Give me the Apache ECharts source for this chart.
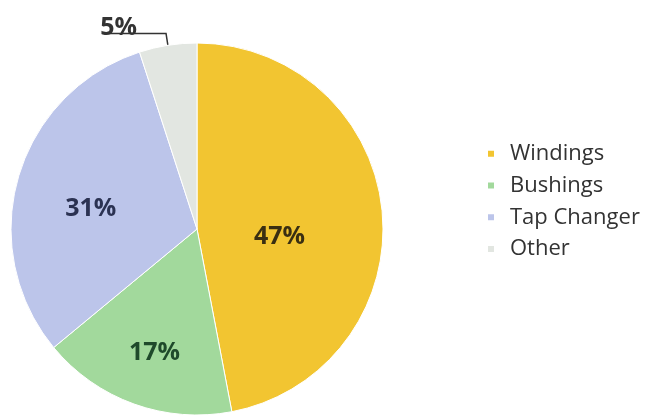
<!DOCTYPE html>
<html><head><meta charset="utf-8">
<script src="https://cdn.jsdelivr.net/npm/echarts@6/dist/echarts.min.js"></script>
<style>html,body{margin:0;padding:0;background:#fff}#c{width:650px;height:418px}</style>
</head><body><div id="c"></div>
<script>
const categories = ["Windings", "Bushings", "Tap Changer", "Other"];
const values = [47, 17, 31, 5];
const sliceColors = ["#F2C531", "#A2D99C", "#BCC5EA", "#E2E6E1"];
const labelColors = ["#3a2f12", "#1f4a2b", "#2b3252", "#333333"];
const labelOffsets = [[-13, 17], [-10, 34], [-14, 7], [38, -6]];

const chart = echarts.init(document.getElementById('c'), null, {renderer: 'canvas'});
const data = categories.map((name, i) => {
  const item = {
    name: name,
    value: values[i],
    itemStyle: {color: sliceColors[i]},
    label: {color: labelColors[i], offset: labelOffsets[i]}
  };
  if (i === 3) {
    item.label.position = 'outside';
    item.labelLine = {show: true, length: 12, length2: 62, lineStyle: {color: '#333', width: 1.5}};
  }
  return item;
});
chart.setOption({
  animation: false,
  legend: {
    orient: 'vertical',
    left: 481,
    top: 134,
    itemWidth: 8,
    itemHeight: 8,
    itemGap: 2,
    icon: 'rect',
    textStyle: {fontFamily: 'Open Sans', fontSize: 22, color: '#333', padding: [0, 0, 0, 10], lineHeight: 29.7},
    data: categories
  },
  series: [{
    type: 'pie',
    center: [197, 229],
    radius: 186,
    startAngle: 90,
    clockwise: true,
    itemStyle: {borderColor: '#fff', borderWidth: 1},
    label: {
      show: true,
      position: 'inside',
      formatter: '{c}%',
      fontFamily: 'Open Sans',
      fontWeight: 'bold',
      fontSize: 25
    },
    labelLine: {show: false},
    data: data
  }]
});
</script></body></html>
